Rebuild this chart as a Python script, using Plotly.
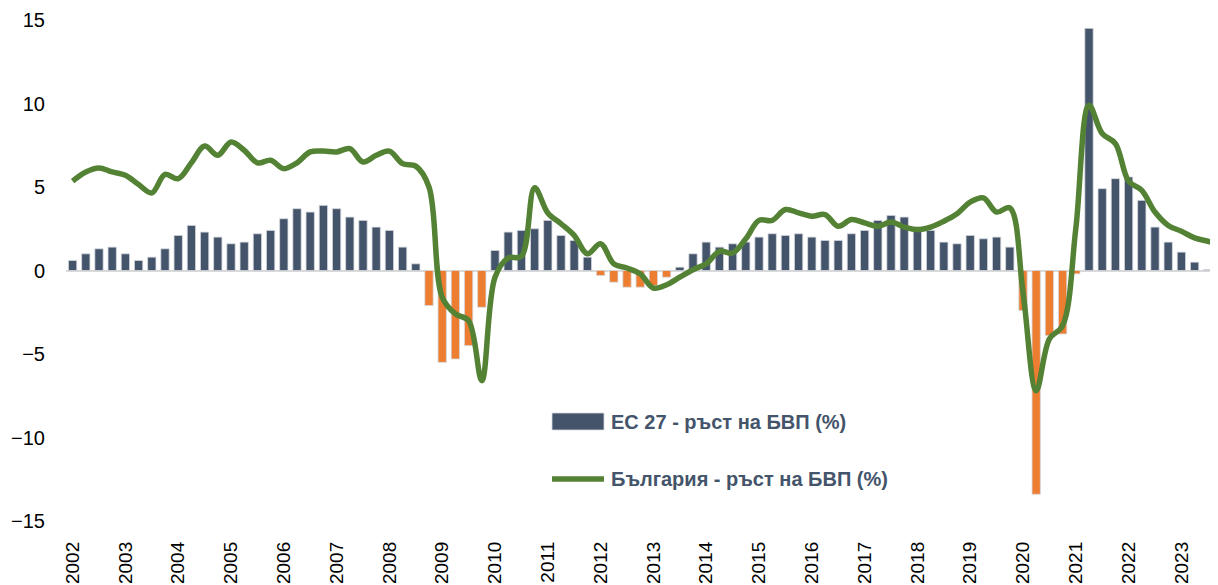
import plotly.graph_objects as go

years = list(range(2002, 2024))
quarters = [f"{y}Q{q}" for y in years for q in (1, 2, 3, 4)]
year_labels = [str(y) for y in years]

eu27_growth = [
    0.6, 1.0, 1.3, 1.4, 1.0, 0.6, 0.8, 1.3,
    2.1, 2.7, 2.3, 2.0, 1.6, 1.7, 2.2, 2.4,
    3.1, 3.7, 3.5, 3.9, 3.7, 3.2, 3.0, 2.6,
    2.4, 1.4, 0.4, -2.1, -5.5, -5.3, -4.5, -2.2,
    1.2, 2.3, 2.4, 2.5, 3.0, 2.1, 1.8, 0.8,
    -0.3, -0.7, -1.0, -1.0, -0.9, -0.4, 0.2, 1.0,
    1.7, 1.4, 1.6, 1.7, 2.0, 2.2, 2.1, 2.2,
    2.0, 1.8, 1.8, 2.2, 2.4, 3.0, 3.3, 3.2,
    2.6, 2.4, 1.7, 1.6, 2.1, 1.9, 2.0, 1.4,
    -2.4, -13.4, -3.9, -3.8, -0.2, 14.5, 4.9, 5.5,
    5.6, 4.2, 2.6, 1.7, 1.1, 0.5, 0.05, 0.3,
]

bulgaria_growth = [
    5.35, 5.9, 6.14, 5.9, 5.7, 5.15, 4.65, 5.75,
    5.5, 6.45, 7.45, 6.9, 7.7, 7.2, 6.45, 6.6,
    6.1, 6.45, 7.1, 7.15, 7.1, 7.3, 6.5, 6.9,
    7.15, 6.4, 6.25, 5.0, -1.6, -2.6, -3.0, -6.6,
    -0.4, 0.75, 0.85, 4.95, 3.45, 2.8, 2.1, 1.0,
    1.6, 0.4, 0.15, -0.2, -1.05, -0.85, -0.4, 0.05,
    0.4, 1.15, 1.05, 1.9, 3.0, 3.0, 3.65, 3.45,
    3.25, 3.35, 2.65, 3.05, 2.85, 2.65, 2.9, 2.6,
    2.45, 2.6, 2.95, 3.4, 4.1, 4.35, 3.5, 3.75,
    -1.3, -7.2, -4.1, -3.3, 2.5, 9.9, 8.2, 7.6,
    5.35, 4.8, 3.5, 2.7, 2.35, 1.95, 1.75, 1.55,
]

legend_names = ["ЕС 27 - ръст на БВП (%)", "България - ръст на БВП (%)"]

BLUE = "#44546a"
ORANGE = "#ed7d31"
GREEN = "#548235"

# the page body has an 8px margin; lay the figure out so the plot lands
# where the reference has it in the 1218x585 window
OFF = 8
W, H = 1218 - OFF, 585 - OFF
PLOT_L, PLOT_R, PLOT_T, PLOT_B = 66, 1218, 20, 521   # window pixels
L, R, T = PLOT_L - OFF, (1218 - OFF) - (PLOT_R - OFF), PLOT_T - OFF
B = H - (PLOT_B - OFF)
pw, ph = W - L - R, H - T - B


def px_x(px):
    return (px - OFF - L) / pw


def px_y(py):
    return (H - B - (py - OFF)) / ph


bar_colors = [BLUE if v >= 0 else ORANGE for v in eu27_growth]

fig = go.Figure()
fig.add_trace(go.Bar(
    x=quarters, y=eu27_growth, name=legend_names[0],
    marker=dict(color=bar_colors, line=dict(color="#d5d9df", width=0.8)),
    width=0.63, showlegend=False,
))
fig.add_trace(go.Scatter(
    x=quarters, y=bulgaria_growth, name=legend_names[1], mode="lines",
    line=dict(color=GREEN, width=5.5, shape="spline", smoothing=1.0),
    showlegend=False,
))

# manual legend
shapes = [
    dict(type="rect", xref="paper", yref="paper",
         x0=px_x(552), x1=px_x(604), y0=px_y(430), y1=px_y(413),
         fillcolor=BLUE, line=dict(color="#d5d9df", width=0.8)),
    dict(type="line", xref="paper", yref="paper",
         x0=px_x(552), x1=px_x(604), y0=px_y(479), y1=px_y(479),
         line=dict(color=GREEN, width=5.5)),
]
annotations = [
    dict(xref="paper", yref="paper", x=px_x(609), y=px_y(422),
         text=f"<b>{legend_names[0]}</b>", showarrow=False,
         xanchor="left", yanchor="middle",
         font=dict(family="Liberation Sans", size=20, color=BLUE)),
    dict(xref="paper", yref="paper", x=px_x(609), y=px_y(479),
         text=f"<b>{legend_names[1]}</b>", showarrow=False,
         xanchor="left", yanchor="middle",
         font=dict(family="Liberation Sans", size=20, color=BLUE)),
]

fig.update_layout(
    width=W, height=H,
    margin=dict(l=L, r=R, t=T, b=B, pad=0, autoexpand=False),
    plot_bgcolor="white", paper_bgcolor="white",
    bargap=0.37,
    shapes=shapes, annotations=annotations,
    font=dict(family="Liberation Sans", size=19, color="black"),
)
fig.update_xaxes(
    type="category", categoryorder="array", categoryarray=quarters,
    range=[-0.5, -0.5 + pw / 13.2],
    tickmode="array", tickvals=quarters[::4], ticktext=year_labels,
    tickangle=-90, ticks="", showgrid=False, showline=False, zeroline=False,
    tickfont=dict(family="Liberation Sans", size=19, color="black"),
    ticklabelstandoff=16, automargin=False,
)
fig.update_yaxes(
    range=[-15, 15], tickvals=[-15, -10, -5, 0, 5, 10, 15],
    ticks="", showgrid=False, showline=False,
    zeroline=True, zerolinecolor="#d9d9d9", zerolinewidth=2,
    tickfont=dict(family="Liberation Sans", size=20, color="black"),
    ticklabelstandoff=20, automargin=False,
)

fig.write_html("out.html")
